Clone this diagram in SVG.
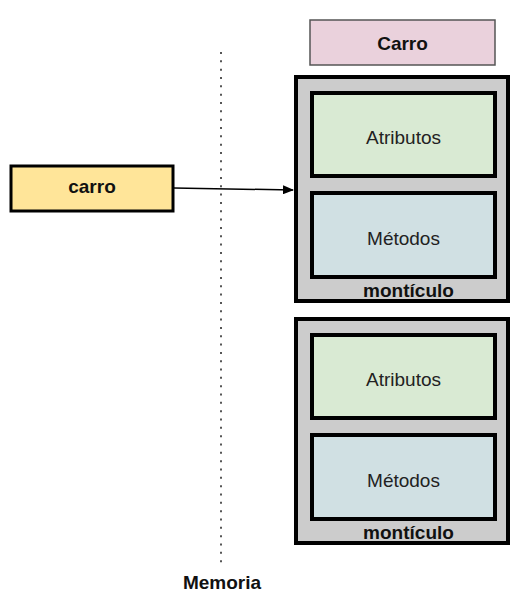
<svg xmlns="http://www.w3.org/2000/svg" width="527" height="598" viewBox="0 0 527 598">
<style>
.t{font-family:"Liberation Sans",Arial,sans-serif;font-size:19px;text-anchor:middle;fill:#222}
.b{font-weight:bold;fill:#111}
.heap{fill:#cccccc;stroke:#000;stroke-width:4}
.attr{fill:#d9ead3;stroke:#000;stroke-width:4}
.meth{fill:#d0e0e3;stroke:#000;stroke-width:4}
</style>
<defs>
<marker id="ah" markerWidth="11" markerHeight="9" refX="10" refY="4.5" orient="auto" markerUnits="userSpaceOnUse">
<path d="M0,0 L11,4.5 L0,9 Z" fill="#000"/>
</marker>
</defs>
<g id="divider">
<line x1="221" y1="52" x2="221" y2="564" stroke="#555" stroke-width="2" stroke-dasharray="2 6.33"/>
<text class="t b" x="222" y="589">Memoria</text>
</g>
<g id="class-carro">
<rect x="310" y="20" width="185" height="45" fill="#ead1dc" stroke="#555" stroke-width="1.5"/>
<text class="t b" x="402.5" y="50">Carro</text>
</g>
<g id="heap1">
<rect class="heap" x="296" y="77" width="212" height="224"/>
<rect class="attr" x="312" y="93" width="183" height="83"/>
<text class="t" x="403.5" y="144">Atributos</text>
<rect class="meth" x="312" y="193" width="183" height="84"/>
<text class="t" x="403.5" y="245">Métodos</text>
<text class="t b" x="408.5" y="297">montículo</text>
</g>
<g id="heap2">
<rect class="heap" x="296" y="319" width="212" height="224"/>
<rect class="attr" x="312" y="335" width="183" height="83"/>
<text class="t" x="403.5" y="386">Atributos</text>
<rect class="meth" x="312" y="435" width="183" height="84"/>
<text class="t" x="403.5" y="487">Métodos</text>
<text class="t b" x="408.5" y="539">montículo</text>
</g>
<g id="var-carro">
<rect x="11" y="166" width="162" height="45" fill="#ffe599" stroke="#000" stroke-width="3"/>
<text class="t b" x="92" y="193">carro</text>
</g>
<g id="connectors">
<line x1="174" y1="188" x2="293" y2="190" stroke="#000" stroke-width="1.5" marker-end="url(#ah)"/>
</g>
</svg>
